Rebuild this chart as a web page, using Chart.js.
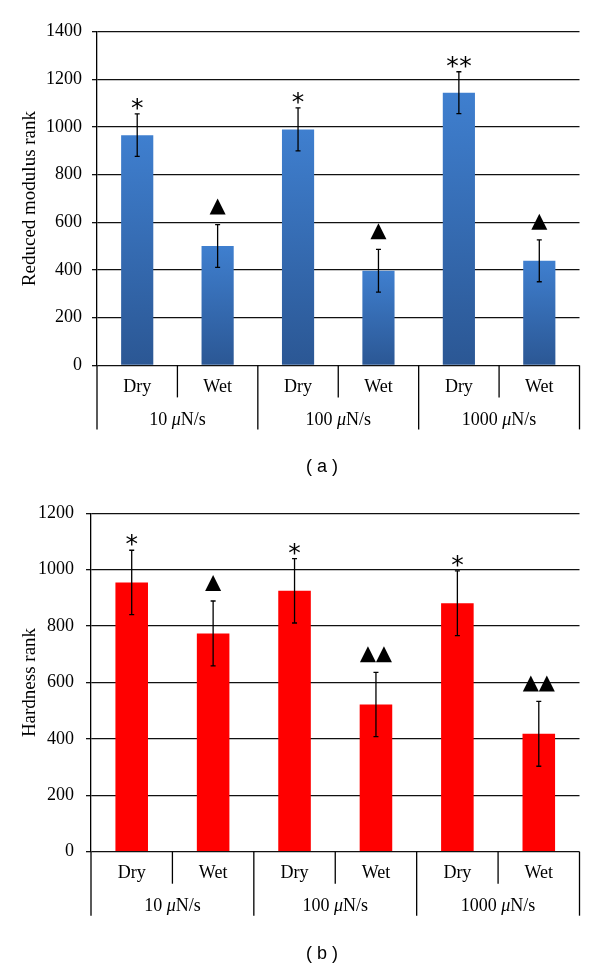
<!DOCTYPE html>
<html><head><meta charset="utf-8">
<script src="https://cdn.jsdelivr.net/npm/chart.js@4"></script>
<style>
html,body{margin:0;padding:0;background:#fff;}
#wrap{position:relative;width:600px;height:968px;overflow:hidden;}
canvas{position:absolute;left:0;}
</style></head><body>
<div id="wrap">
<canvas id="cA" width="600" height="484" style="top:0;width:600px;height:484px"></canvas>
<canvas id="cB" width="600" height="484" style="top:484px;width:600px;height:484px"></canvas>
</div>
<script>
// ---- data ----
const categories = ['Dry', 'Wet', 'Dry', 'Wet', 'Dry', 'Wet'];
const groupLabels = ['10 μN/s', '100 μN/s', '1000 μN/s'];

const modulusValues = [966, 501, 990, 397, 1144, 439];
const modulusErrors = [89, 90, 90, 90, 88, 88];
const modulusMarks  = ['*', '▲', '*', '▲', '**', '▲'];
const modulusTicks  = [0, 200, 400, 600, 800, 1000, 1200, 1400];

const hardnessValues = [955, 774, 925, 522, 881, 418];
const hardnessErrors = [114, 115, 114, 114, 115, 115];
const hardnessMarks  = ['*', '▲', '*', '▲▲', '*', '▲▲'];
const hardnessTicks  = [0, 200, 400, 600, 800, 1000, 1200];

// ---- drawing helpers ----
const SERIF = '"Liberation Serif", "DejaVu Serif", serif';

function drawMixed(ctx, text, cx, cy, size) {
  const parts = text.split('μ');
  const segs = [];
  parts.forEach((p, i) => {
    if (i > 0) segs.push({ t: 'μ', it: true });
    if (p) segs.push({ t: p, it: false });
  });
  let total = 0;
  segs.forEach(s => {
    ctx.font = (s.it ? 'italic ' : '') + size + 'px ' + SERIF;
    s.w = ctx.measureText(s.t).width;
    total += s.w;
  });
  let x = cx - total / 2;
  ctx.textAlign = 'left';
  segs.forEach(s => {
    ctx.font = (s.it ? 'italic ' : '') + size + 'px ' + SERIF;
    ctx.fillText(s.t, x, cy);
    x += s.w;
  });
}

const decor = {
  id: 'decor',
  afterDatasetsDraw(chart, args, o) {
    const ctx = chart.ctx, ys = chart.scales.y, meta = chart.getDatasetMeta(0);
    const { left, right, bottom } = chart.chartArea;
    ctx.save();
    ctx.strokeStyle = '#000';
    ctx.fillStyle = '#000';
    o.values.forEach((v, i) => {
      const x = meta.data[i].x;
      const yt = ys.getPixelForValue(v + o.errors[i]);
      const yb = ys.getPixelForValue(v - o.errors[i]);
      ctx.lineWidth = 1.3;
      ctx.beginPath();
      ctx.moveTo(x, yt); ctx.lineTo(x, yb);
      ctx.moveTo(x - 2.5, yt); ctx.lineTo(x + 2.5, yt);
      ctx.moveTo(x - 2.5, yb); ctx.lineTo(x + 2.5, yb);
      ctx.stroke();
      const mark = o.marks[i];
      if (mark.indexOf('▲') >= 0) {
        const n = [...mark].length, w = 16, h = 16, base = yt - 10;
        for (let k = 0; k < n; k++) {
          const cx = x + (k - (n - 1) / 2) * w;
          ctx.beginPath();
          ctx.moveTo(cx - w / 2, base); ctx.lineTo(cx + w / 2, base); ctx.lineTo(cx, base - h);
          ctx.closePath(); ctx.fill();
        }
      } else {
        const n = mark.length;
        ctx.font = '25px "DejaVu Sans", sans-serif';
        ctx.textAlign = 'center';
        ctx.textBaseline = 'alphabetic';
        const m = ctx.measureText('*');
        const cy = yt - 10;
        const by = cy + (m.actualBoundingBoxAscent - m.actualBoundingBoxDescent) / 2;
        for (let k = 0; k < n; k++) {
          ctx.fillText('*', x + (k - (n - 1) / 2) * 13, by);
        }
      }
    });
    // two-level category axis
    const n = categories.length, cw = (right - left) / n;
    ctx.lineWidth = 1.3;
    for (let i = 0; i <= n; i++) {
      const x = left + i * cw;
      const len = (i % 2 === 0) ? 64 : 32;
      ctx.beginPath(); ctx.moveTo(x, bottom); ctx.lineTo(x, bottom + len); ctx.stroke();
    }
    ctx.textBaseline = 'middle';
    ctx.textAlign = 'center';
    ctx.font = '18px ' + SERIF;
    categories.forEach((c, i) => ctx.fillText(c, left + (i + 0.5) * cw, bottom + 22));
    groupLabels.forEach((g, i) => drawMixed(ctx, g, left + (2 * i + 1) * cw, bottom + 55, 18));
    ctx.textAlign = 'center';
    ctx.font = '18px "Liberation Sans", Arial, sans-serif';
    ctx.fillText(o.caption, 322, bottom + 102);
    ctx.restore();
  }
};

function blueGrad(c) {
  const chart = c.chart, ys = chart.scales && chart.scales.y;
  if (c.type !== 'data' || !ys || !chart.chartArea) return '#3a74c0';
  const top = ys.getPixelForValue(c.raw), base = ys.getPixelForValue(0);
  if (!isFinite(top) || !isFinite(base) || base - top < 1) return '#3a74c0';
  const g = chart.ctx.createLinearGradient(0, top, 0, base);
  g.addColorStop(0, '#3f7fcf');
  g.addColorStop(1, '#2b5794');
  return g;
}

function makeChart(id, values, errors, marks, ticks, color, title, caption, yWidth, pad, tickPad) {
  return new Chart(document.getElementById(id), {
    type: 'bar',
    data: {
      labels: categories,
      datasets: [{ data: values, backgroundColor: color, borderWidth: 0,
        barPercentage: 0.4, categoryPercentage: 1.0 }]
    },
    plugins: [decor],
    options: {
      responsive: false, animation: false, devicePixelRatio: 1,
      layout: { padding: pad },
      plugins: {
        legend: { display: false }, tooltip: { enabled: false },
        decor: { values, errors, marks, caption }
      },
      scales: {
        x: { display: false },
        y: {
          min: ticks[0], max: ticks[ticks.length - 1],
          afterBuildTicks: s => { s.ticks = ticks.map(v => ({ value: v })); },
          afterFit: s => { s.width = yWidth; },
          grid: { color: '#111', lineWidth: 1.3, tickLength: 5, drawTicks: true },
          border: { display: true, color: '#000', width: 1.3 },
          ticks: { font: { family: SERIF, size: 18 }, color: '#000', padding: tickPad,
            callback: v => String(v) },
          title: { display: true, text: title, color: '#000',
            font: { family: SERIF, size: 19 }, padding: { top: 18.6, bottom: 0 } }
        }
      }
    }
  });
}

makeChart('cA', modulusValues, modulusErrors, modulusMarks, modulusTicks, blueGrad,
  'Reduced modulus rank', '( a )', 97, { top: 31.7, bottom: 118.6, left: 0, right: 20.5 }, 10);
makeChart('cB', hardnessValues, hardnessErrors, hardnessMarks, hardnessTicks, '#ff0000',
  'Hardness rank', '( b )', 91, { top: 29.3, bottom: 116.3, left: 0, right: 20.5 }, 12);
</script>
</body></html>
